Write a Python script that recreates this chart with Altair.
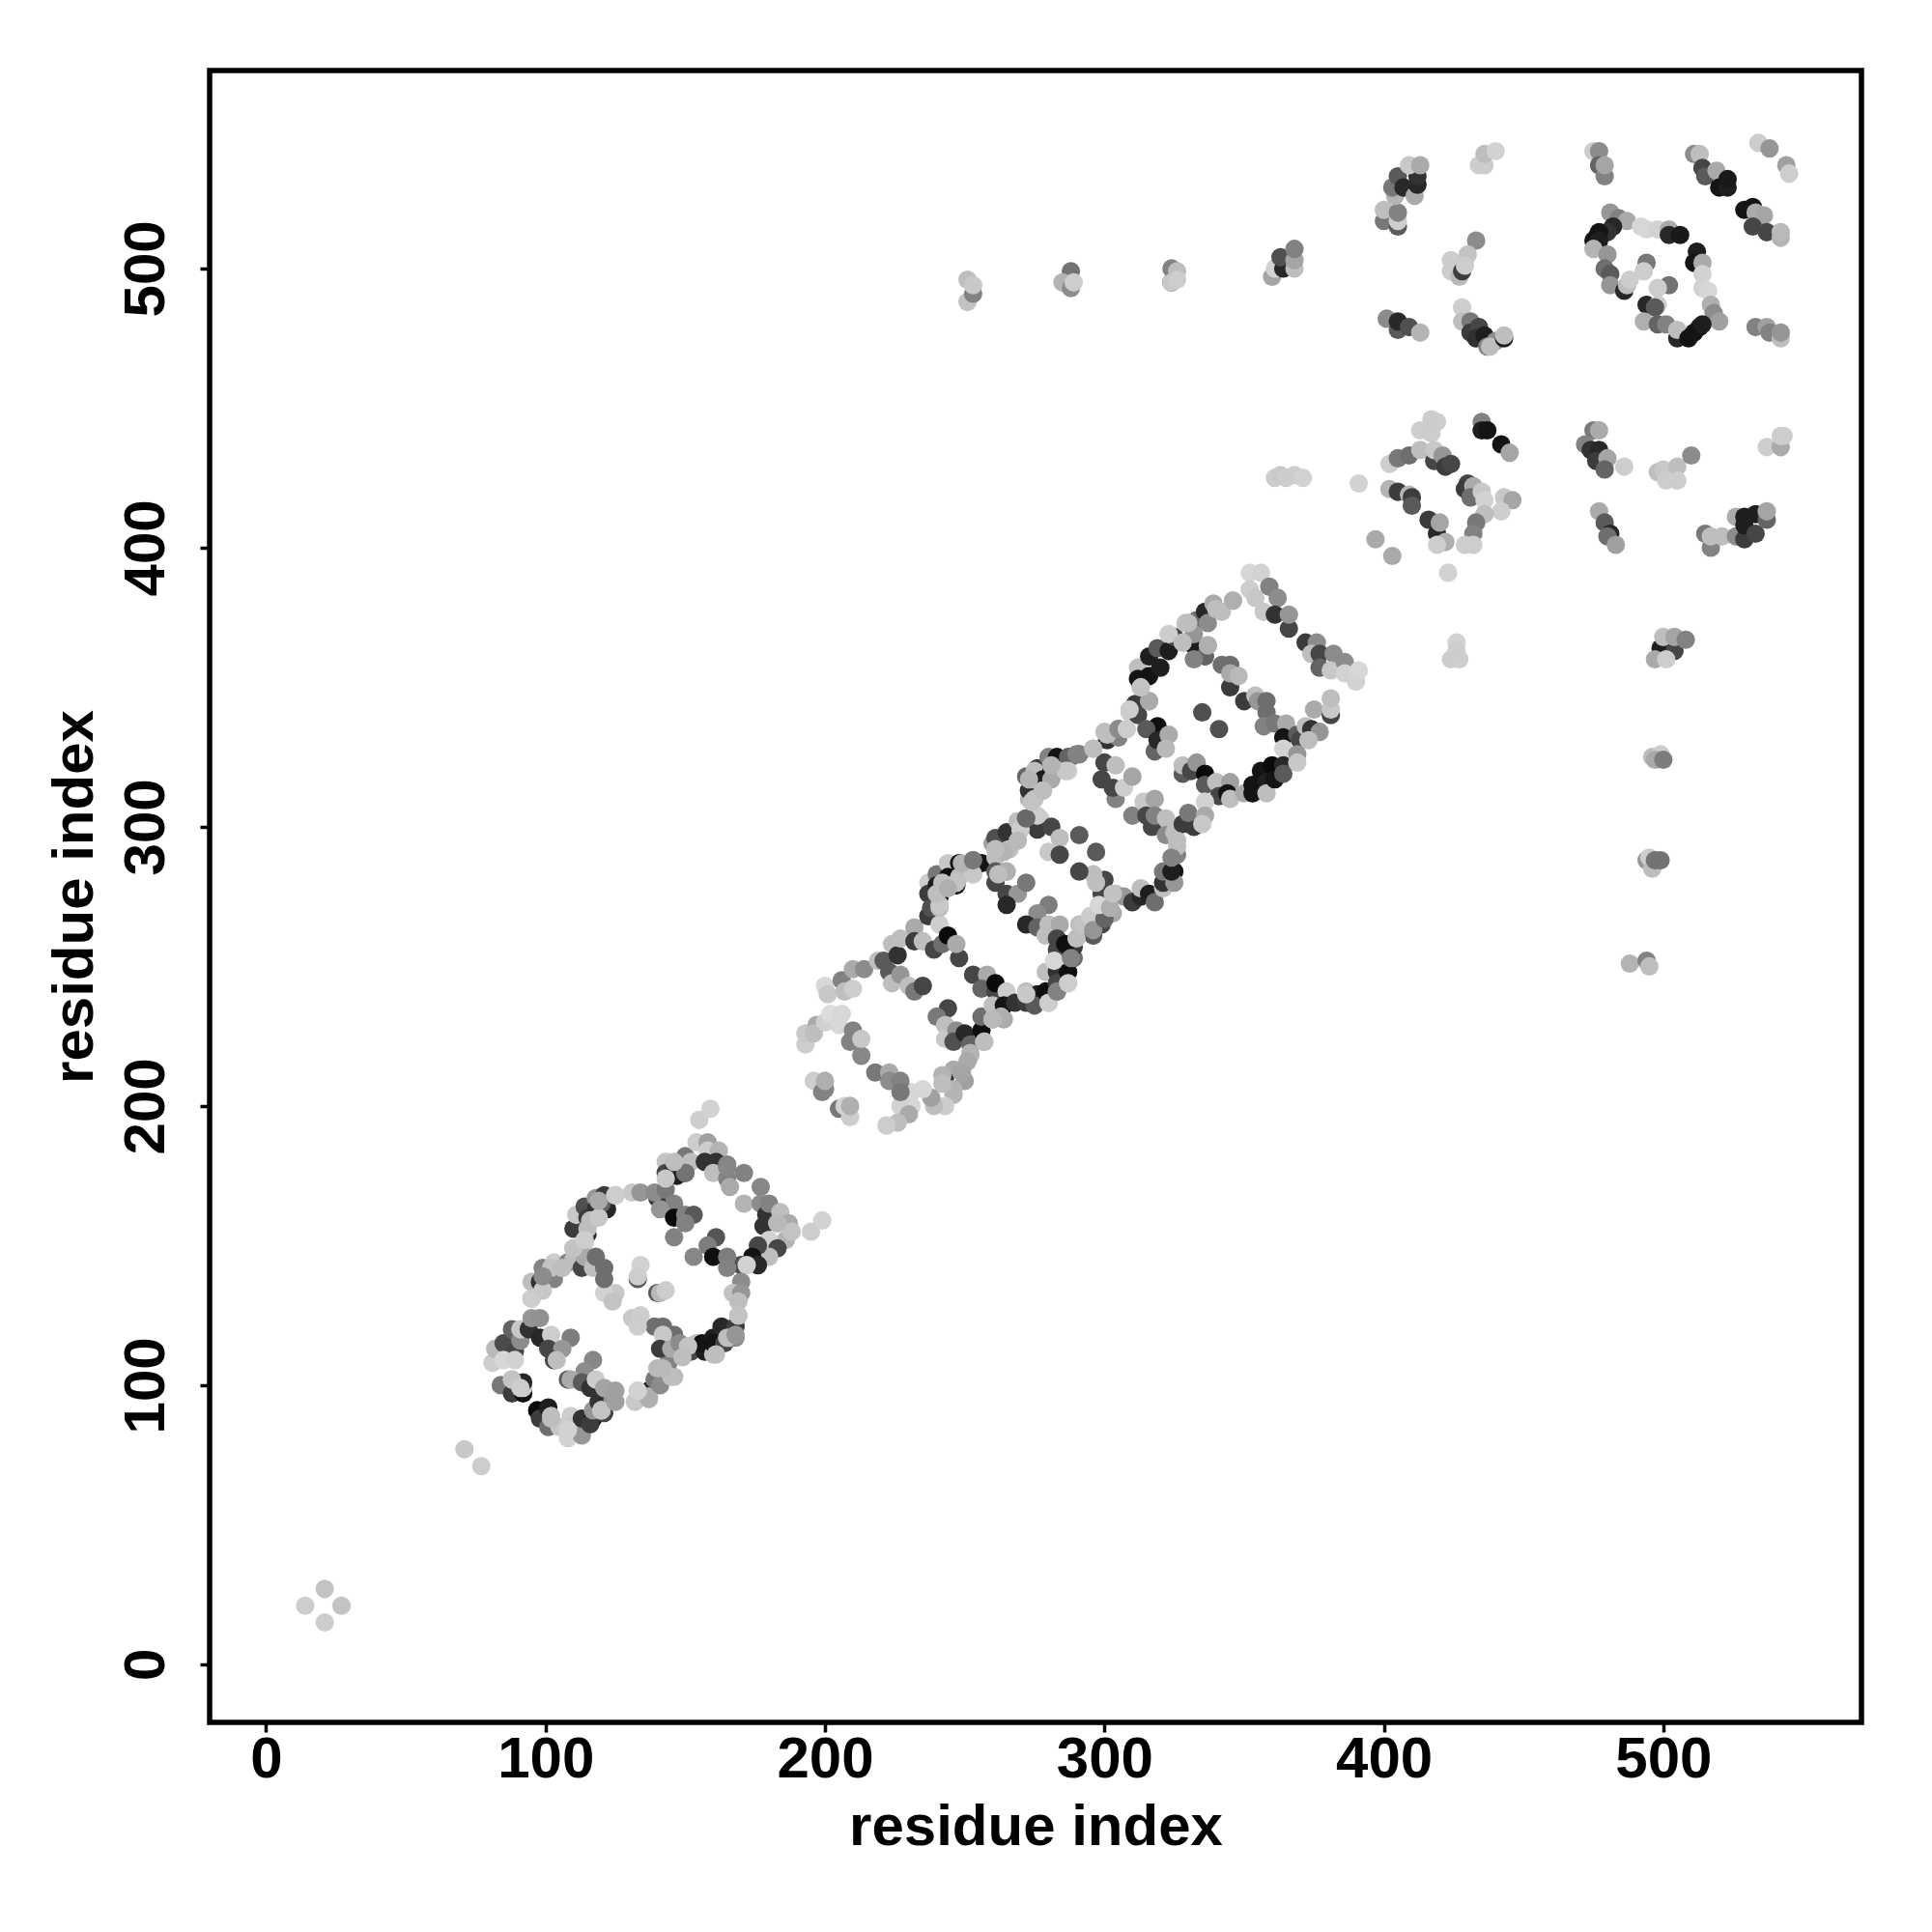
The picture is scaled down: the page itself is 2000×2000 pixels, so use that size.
import altair as alt
import pandas as pd

corner = [(14,21,205),(21,27,195),(27,21,195),(21,15,205),(71,77,200),(77,71,205)]

helix_a = [
(81,108,205),(82,113,185),(85,115,75),(89,112,70),(85,109,215),(89,109,210),(88,120,100),(91,116,140),(91,120,200),
(94,120,50),(95,124,150),(98,124,145),(98,117,40),(102,118,205),(101,113,70),(109,117,125),(106,113,150),(103,109,70),(104,109,190),
(84,100,120),(88,97,60),(88,102,190),(92,97,15),(92,99,200),(92,101,40),(97,91,10),(98,88,60),(101,85,110),(101,92,30),(102,89,190),
(105,85,200),(108,81,210),(109,89,205),(110,85,200),(113,82,150),(113,88,50),(117,88,15),(116,86,60),(117,91,150),(119,94,50),(121,90,70),(120,91,210),
(117,109,135),(114,105,140),(108,102,90),(109,102,170),(113,101,90),(116,99,50),(118,102,205),(124,95,150),(121,99,165),(125,98,160),
(132,94,200),(133,98,210),(137,98,30),(137,96,180),(139,102,120),(141,100,140),(140,106,185),(146,103,185),(144,108,130),(149,111,190),
(152,112,75),(154,115,195),(157,112,30),(156,115,20),(160,111,190),(160,117,30),(160,115,20),(164,115,70),(163,121,40),(166,117,190),(168,121,60),(168,117,140),(169,125,195),
(146,118,110),(142,121,110),(139,121,110),(142,118,200),(141,113,60),(145,113,170),(148,115,140),
(131,124,200),(134,125,205),(133,121,205),(133,138,90),(134,143,210),(133,139,205),(140,133,90),(141,133,185),(143,134,205),
(125,133,200),(121,133,210),(124,130,195),
(95,131,200),(95,137,190),(98,137,50),(99,134,200),(99,142,130),(103,138,130),(103,144,205),(106,142,190),(108,144,130),(110,145,190),(110,149,200),
(110,156,60),(111,161,200),(114,164,80),(115,160,60),(115,154,40),(115,156,190),(118,167,150),(121,168,60),(118,163,50),(122,163,40),(120,165,100),(125,168,200),
(114,151,205),(113,142,70),(114,146,170),(117,142,190),(118,146,110),(121,142,110),(121,138,110),
(131,169,200),(134,169,150),(140,167,60),(139,169,140),(143,170,120),(146,165,130),(141,163,150),(146,160,10),(150,161,130),(153,161,90),(150,158,130),(146,153,130),
(143,180,195),(143,176,70),(146,178,50),(147,175,30),(150,182,120),(152,180,190),(150,176,90),(154,187,205),(158,187,160),(158,184,205),(157,180,50),(162,184,180),
(161,180,50),(160,176,190),(165,179,130),(165,174,130),(166,171,170),(171,176,130),(155,195,205),(159,199,210),
(171,165,180),(177,171,135),(177,165,140),(179,161,50),(180,165,130),(178,157,50),(184,162,190),(183,158,190),(187,158,170),(188,155,190),(186,152,180),(180,152,210),
(183,149,70),(180,146,190),(176,150,70),(174,146,20),(176,143,40),(170,143,80),(172,143,210),(195,155,205),(199,159,210),
(161,153,85),(158,150,125),(153,146,135),(160,146,15),(165,146,125),(165,142,130),(170,137,140),(167,133,195),(170,133,150),(169,130,190),
]

helix_b = [
(193,222,205),(193,226,200),(197,229,170),(196,226,190),(200,230,210),(200,243,215),(201,240,200),(202,233,220),(206,233,215),(205,229,215),(206,245,130),(207,241,190),
(210,242,205),(210,249,170),(214,249,140),(210,227,130),(209,223,130),(213,218,135),(213,224,200),
(196,209,205),(199,205,130),(200,206,130),(200,209,175),(205,199,120),(209,196,205),(207,200,210),(209,200,175),
(219,252,190),(221,252,90),(224,258,190),(223,248,90),(224,244,190),(227,247,150),(226,254,50),(227,260,190),(230,243,190),(232,241,120),(235,243,70),
(232,264,170),(232,259,60),(235,259,190),(237,268,60),(241,265,205),(239,256,70),(242,258,110),(244,261,10),(248,253,70),(247,258,170),
(237,280,205),(237,276,60),(238,271,80),(241,271,190),(240,283,120),(240,279,30),(241,275,20),(244,287,200),(244,282,15),(248,287,20),(248,282,190),(247,279,30),
(253,288,110),(253,283,190),(256,287,20),(260,294,160),(261,289,190),(261,296,80),(265,298,50),(266,292,190),(261,284,90),(261,280,70),(265,284,190),(265,276,70),
(269,276,150),(272,280,120),(265,272,40),(270,299,205),(269,302,190),(272,303,90),(277,303,205),(276,299,60),(281,300,70),(284,296,190),(280,291,200),(284,290,70),(291,297,90),(297,291,90),
(273,310,180),(274,309,190),(272,318,100),(273,313,50),(275,317,190),(276,321,60),(275,320,190),(278,317,30),(278,313,190),(280,325,130),(283,325,20),(281,320,20),(281,317,170),(286,321,190),(288,325,110),(291,326,130),
(280,272,125),(276,269,140),(272,265,40),(276,264,100),(280,265,190),(279,261,190),(284,265,170),(283,260,70),(283,256,70),
(244,235,70),(240,232,120),(243,229,190),(243,224,200),(247,227,140),(246,223,80),(250,226,40),(252,222,100),(252,218,190),(256,227,15),(257,223,190),(256,232,110),(260,231,190),(264,231,170),
(249,213,150),(250,209,160),(246,213,170),(243,209,50),(242,211,180),(246,204,180),(243,200,205),(239,200,190),(238,203,160),(235,206,215),(231,205,215),(231,200,215),(227,200,210),(230,197,170),(226,194,190),(222,193,205),
(218,212,120),(223,212,170),(223,209,140),(227,209,130),(227,205,120),
(253,247,70),(258,247,170),(256,242,100),(261,241,70),(261,244,10),(265,241,205),(260,236,190),(264,236,20),(268,237,50),(272,237,60),(272,241,190),(276,240,30),(275,236,90),(280,237,190),(279,241,15),(283,241,110),
(279,248,190),(283,248,50),(283,244,70),(287,244,190),(287,248,15),(282,252,215),(289,253,110),(289,257,60),(286,258,15),(292,262,190),(291,265,190),(296,261,90),(299,265,70),(303,269,170),(295,268,190),(298,271,210),
(300,281,70),(299,276,70),(296,283,190),(304,276,190),(291,284,70),(297,280,190),
(307,275,150),(310,273,60),(313,275,40),(313,278,190),(316,276,30),(318,273,110),(321,278,190),(321,280,50),(321,284,120),(325,284,20),(325,280,150),(326,290,130),(326,293,190),(324,284,30),(324,289,130),
]

helix_c = [
(287,325,100),(291,326,130),(296,328,170),(287,320,205),(301,331,50),(300,334,190),(305,332,130),(305,335,80),(308,335,205),(309,341,205),(311,344,60),(312,340,70),(316,345,170),(313,350,190),
(312,357,190),(312,353,20),(316,354,20),(316,361,30),(320,357,30),(319,364,90),(323,369,205),(323,363,30),(325,368,70),(329,373,195),(333,374,110),(336,377,40),(337,373,140),(339,380,170),(342,377,190),(346,381,180),(329,366,190),(332,365,30),(332,369,150),
(336,361,100),(337,365,165),(332,360,130),(342,358,110),(345,358,110),(345,350,60),(345,355,170),(348,354,185),
(352,391,215),(356,391,210),(352,385,205),(354,382,200),(359,386,130),(362,382,140),(357,377,200),(361,376,50),(366,371,70),(366,376,150),(372,366,60),(376,366,140),(374,362,190),(377,362,70),(377,357,100),(382,362,140),(381,356,200),(386,359,140),(386,355,210),(390,352,210),(391,356,215),
(335,341,80),(341,335,80),
(350,345,60),(354,347,190),(355,345,150),(358,345,110),(358,341,110),(357,336,130),(361,337,120),(365,337,170),(364,332,20),(369,333,90),(364,328,210),(370,331,70),(369,326,150),
(372,336,190),(374,335,50),(375,342,170),(377,334,150),(381,340,70),(381,342,200),(381,346,190),(373,331,190),
(319,336,15),(315,335,90),(318,327,100),(319,331,40),(323,333,170),(322,328,185),
(328,319,90),(328,322,190),(331,320,70),(333,323,150),(336,319,10),(336,315,90),(340,316,190),(341,311,70),(345,316,160),(344,312,20),(345,310,190),(336,309,210),(350,312,170),(353,315,20),(353,312,20),
(356,320,20),(358,316,30),(360,322,10),(358,312,190),(361,317,20),(364,322,40),(364,319,90),(369,323,200),
(304,310,130),(300,323,70),(304,322,190),(303,314,70),(299,317,70),(307,314,205),(310,318,165),
(310,304,130),(314,309,200),(315,304,70),(317,300,70),(318,310,165),(318,304,130),(322,303,190),(322,297,140),(325,298,190),(328,301,60),(332,300,60),(330,305,120),(336,304,170),(335,301,200),(326,295,190),
]

upper_right = [
(400,517,120),(400,521,190),(405,515,90),(405,517,205),(405,520,130),(404,526,180),(403,529,120),(405,533,90),(407,529,40),(411,526,170),(412,530,40),(412,533,50),(409,537,200),(413,537,170),
(434,537,205),(436,537,205),(436,541,190),(440,542,210),
(433,510,140),(430,505,195),(424,503,205),(424,499,205),(427,497,185),(428,499,60),(429,501,205),
(401,482,140),(405,478,90),(405,481,40),(409,479,80),(413,477,180),
(428,486,205),(428,481,190),(431,481,120),(431,477,60),(434,479,70),(433,475,50),(436,476,30),(437,472,130),(440,474,140),(438,472,190),(443,475,30),(443,476,190),
(475,542,205),(477,542,140),(477,537,100),(479,533,130),(479,537,165),
(481,520,150),(484,518,130),(487,517,170),(482,515,40),(480,513,50),(477,513,20),(476,511,20),(475,510,20),(477,510,30),(475,507,180),(480,505,150),(479,500,110),(481,498,90),(481,494,150),(486,492,40),(487,494,190),(488,496,205),
(494,502,120),(493,499,205),(492,515,215),(494,514,215),(498,514,210),(502,514,170),(502,512,40),(506,512,25),
(512,506,30),(511,502,20),(514,502,170),(514,498,210),(514,493,210),(516,492,215),(517,487,175),(518,484,140),(520,481,160),
(502,494,115),(498,493,205),(494,487,40),(498,487,205),(497,486,90),(493,481,175),(498,480,100),(501,480,130),(505,475,40),(505,478,190),(509,475,20),(511,477,20),(513,479,20),(514,480,30),
(511,541,140),(513,541,190),(514,536,70),(515,533,90),(519,535,170),(520,529,20),(523,529,30),(523,532,25),
(529,521,20),(532,522,20),(533,520,170),(536,519,165),(532,515,70),(537,513,70),(542,511,180),(542,513,185),
(534,545,205),(538,543,150),(544,537,160),(545,534,205),
(533,479,130),(537,479,160),(538,477,130),(542,475,190),(542,477,150),
]

lower_right = [
(413,442,205),(417,446,205),(419,445,205),(417,441,205),(435,445,130),(435,442,30),(437,442,20),(442,437,20),(445,434,165),
(402,430,205),(405,432,120),(409,433,110),(413,435,190),(418,431,70),(418,435,200),(421,433,150),(422,429,60),(424,430,70),
(391,423,210),(402,421,180),(405,420,60),(409,419,180),(410,418,60),(410,415,90),
(430,423,70),(429,421,60),(432,422,170),(431,418,110),(435,420,200),(436,417,210),(443,418,200),(446,417,165),(442,413,205),(436,412,190),(433,409,120),(432,405,130),(429,401,205),(432,401,205),
(416,410,60),(419,405,40),(420,409,165),(422,402,175),(419,401,205),
(397,403,170),(403,397,170),(423,391,210),
(475,442,120),(477,442,170),(472,437,130),(474,435,50),(477,435,40),(476,431,60),(480,432,165),(479,428,100),(486,429,205),
(498,427,190),(500,428,200),(505,429,190),(505,424,205),(501,424,205),(510,433,140),
(477,413,170),(479,409,90),(481,405,40),(480,404,110),(483,401,160),
(515,405,120),(517,400,130),(517,404,190),(521,404,190),(526,411,170),(526,404,140),(529,403,60),(529,411,30),(529,408,30),(533,412,30),(533,405,70),(537,410,100),(537,413,165),
(537,436,205),(542,436,170),(542,440,205),(543,440,205),
(361,425,205),(363,426,200),(365,425,205),(368,426,205),(371,425,210),
(426,366,210),(426,363,205),(424,360,205),(427,360,205),
]

row_500 = [
(251,488,195),(251,496,190),(253,491,130),(253,494,200),
(288,499,115),(285,495,180),(288,493,140),(289,495,205),
(324,500,130),(324,495,70),(324,495,200),(326,499,190),(326,496,205),
(360,497,165),(361,500,210),(364,500,40),(363,504,80),(368,500,190),(368,503,165),(368,507,130),
]

column_500 = [
(499,364,30),(500,368,190),(504,363,70),(504,368,165),(508,367,130),(497,360,170),(501,360,205),
(496,325,190),(499,326,205),(497,324,170),(500,324,125),
(494,288,150),(495,289,205),(496,285,190),(497,288,115),(499,288,115),
(488,251,180),(494,252,130),(495,250,190),
]

# paler contacts that sit on top of the dark ones along the rims
rim_top = [
(241,272,200),(240,276,190),(242,280,190),(247,280,195),(244,278,175),(253,283,200),(249,287,180),(253,288,120),(265,284,175),(262,283,190),
(270,299,205),(269,295,185),(276,304,205),(272,303,105),(264,291,180),(261,292,190),(274,309,195),
(263,232,175),(260,231,185),(257,223,190),(252,219,180),(251,216,170),(249,212,165),(246,206,180),(242,208,190),
(280,237,205),(283,241,130),(272,240,200),(287,244,205),(288,253,130),(290,260,190),(292,265,195),(295,268,205),(296,263,150),(300,267,100),(298,272,215),(302,271,175),(303,276,195),
(275,310,195),(278,313,190),(273,317,180),(286,320,200),(281,322,180),(290,326,130),(296,328,190),(301,333,190),(305,335,140),(308,335,205),(309,342,205),(316,345,170),(313,350,195),
(323,369,205),(328,366,190),(337,365,175),(330,373,190),(340,378,190),(346,381,175),
(95,131,205),(99,134,200),(102,142,195),(106,142,190),(99,139,140),(110,149,195),(114,152,205),(116,159,190),(119,160,200),(119,166,170),(125,168,205),
(145,103,190),(142,106,185),(137,95,175),(133,98,210),(151,114,195),(149,110,190),(161,111,190),(165,117,190),(168,118,150),(169,125,195),
(102,88,190),(108,84,210),(120,91,195),(125,94,160),(88,102,195),(91,99,205),
(165,178,135),(150,176,115),(146,180,190),(143,174,200),(188,155,195),(183,158,185),
]

x_ticks = [0, 100, 200, 300, 400, 500]
y_ticks = [0, 100, 200, 300, 400, 500]
axis_label = "residue index"

rows = corner + helix_a + helix_b + helix_c + upper_right + lower_right + row_500 + column_500 + rim_top
df = pd.DataFrame(rows, columns=["x", "y", "g"])
df["shade"] = [f"rgb({g},{g},{g})" for g in df["g"]]

FONT = "Liberation Sans"
axis_common = dict(
    values=x_ticks,
    title=axis_label,
    grid=False,
    domain=False,
    tickColor="black",
    tickWidth=3.5,
    tickSize=10,
    labelFont=FONT,
    labelFontSize=60,
    labelFontWeight="bold",
    labelColor="black",
    titleFont=FONT,
    titleFontSize=60,
    titleFontWeight="bold",
    titleColor="black",
    labelOverlap=False,
    labelFlush=False,
)

chart = (
    alt.Chart(df)
    .mark_circle(size=365, opacity=1)
    .encode(
        x=alt.X("x:Q", scale=alt.Scale(domain=[-20.2, 570.9], nice=False, zero=False),
                axis=alt.Axis(labelPadding=-1, titlePadding=11, **axis_common)),
        y=alt.Y("y:Q", scale=alt.Scale(domain=[-20.8, 570.9], nice=False, zero=False),
                axis=alt.Axis(labelAngle=270, labelAlign="center", labelBaseline="bottom",
                              labelPadding=25, titlePadding=13, **axis_common)),
        color=alt.Color("shade:N", scale=None),
    )
    .properties(
        width=1710,
        height=1710,
        autosize=alt.AutoSizeParams(type="none"),
        padding={"left": 209, "top": 65, "right": 60, "bottom": 210},
    )
    .configure_view(stroke="black", strokeWidth=5.5, fill="white")
)

chart.save("out.html", embed_options={"renderer": "svg", "actions": False})
